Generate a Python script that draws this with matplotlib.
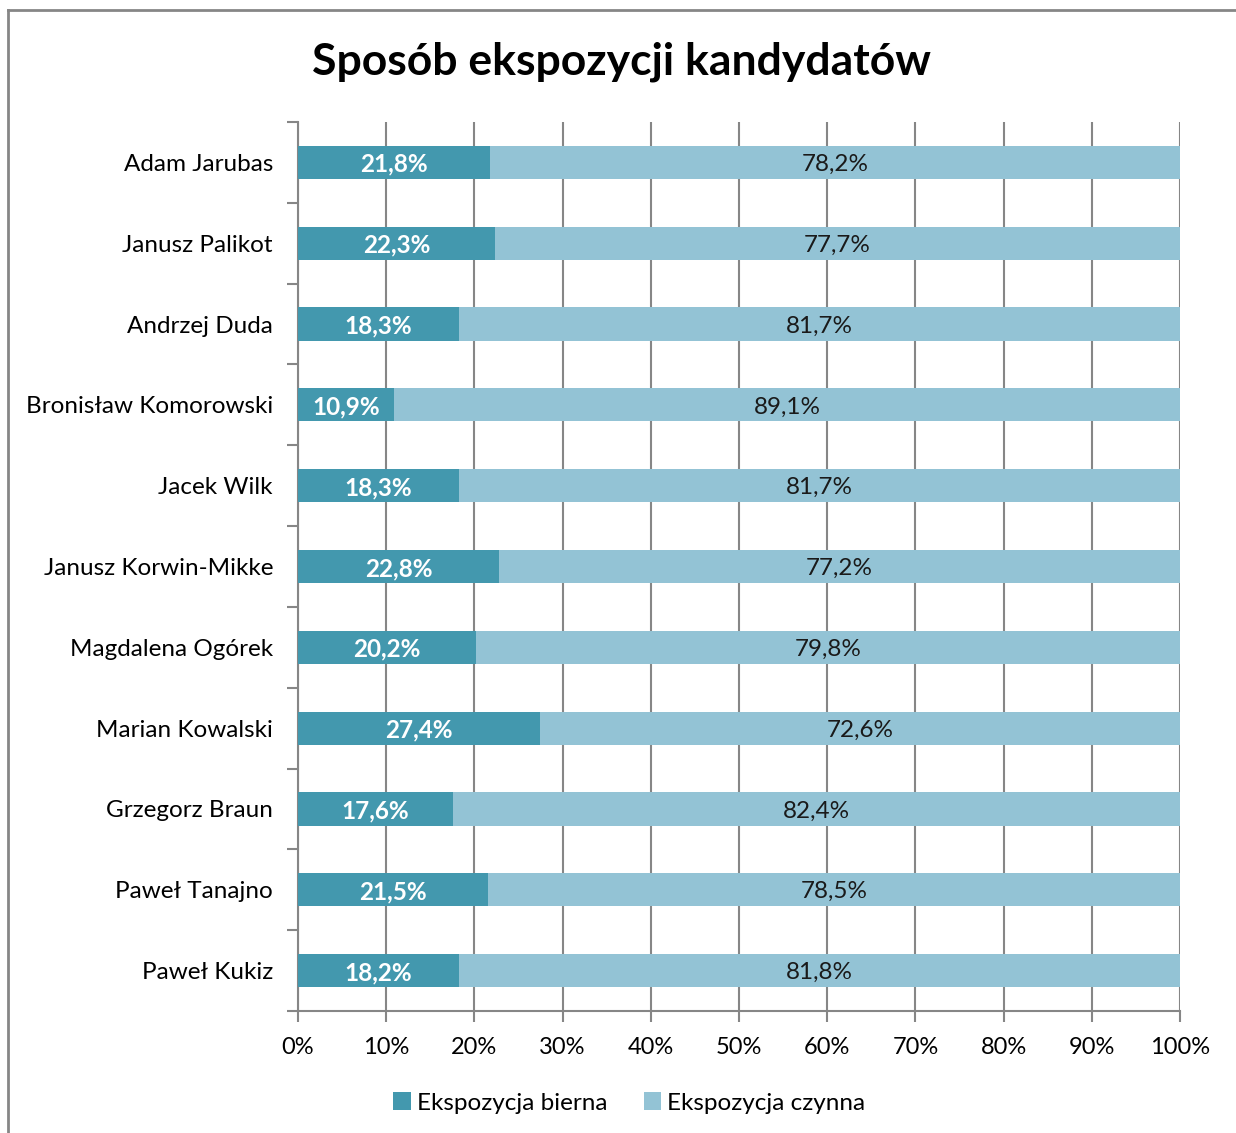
import numpy as np
import matplotlib.pyplot as plt
from matplotlib.lines import Line2D

plt.rcParams['font.family'] = ['Lato', 'DejaVu Sans']

kandydaci = ['Adam Jarubas', 'Janusz Palikot', 'Andrzej Duda', 'Bronisław Komorowski',
             'Jacek Wilk', 'Janusz Korwin-Mikke', 'Magdalena Ogórek', 'Marian Kowalski',
             'Grzegorz Braun', 'Paweł Tanajno', 'Paweł Kukiz']
bierna = [21.8, 22.3, 18.3, 10.9, 18.3, 22.8, 20.2, 27.4, 17.6, 21.5, 18.2]
czynna = [78.2, 77.7, 81.7, 89.1, 81.7, 77.2, 79.8, 72.6, 82.4, 78.5, 81.8]
ticks = [0, 10, 20, 30, 40, 50, 60, 70, 80, 90, 100]

c_bierna = '#4398ae'
c_czynna = '#93c3d5'
grey = '#868686'

fig = plt.figure(figsize=(12.36, 11.33), dpi=100)
ax = fig.add_axes([298 / 1236, 1 - 1011 / 1133, 882 / 1236, 889 / 1133])

y = np.arange(len(kandydaci))
b1 = ax.barh(y, bierna, height=0.41, color=c_bierna, zorder=3, label='Ekspozycja bierna')
b2 = ax.barh(y, czynna, left=bierna, height=0.41, color=c_czynna, zorder=3, label='Ekspozycja czynna')

for i in range(len(kandydaci)):
    ax.text(bierna[i] / 2, y[i], f'{bierna[i]:.1f}%'.replace('.', ','), ha='center',
            va='center_baseline', color='white', fontsize=17.5, fontweight='bold', zorder=4)
    ax.text(bierna[i] + czynna[i] / 2, y[i], f'{czynna[i]:.1f}%'.replace('.', ','), ha='center',
            va='center_baseline', color='#1a1a1a', fontsize=17.5, zorder=4)

ax.set_ylim(len(kandydaci) - 0.5, -0.5)
ax.set_xlim(0, 100)
ax.set_yticks(y)
ax.set_yticklabels(kandydaci, fontsize=17.5)
ax.set_yticks(np.arange(len(kandydaci) + 1) - 0.5, minor=True)
ax.tick_params(axis='y', which='major', length=0, pad=18)
ax.tick_params(axis='y', which='minor', length=8, width=1.5, color=grey)
ax.set_xticks(ticks)
ax.set_xticklabels([f'{t}%' for t in ticks], fontsize=17)
ax.tick_params(axis='x', length=8, width=1.5, color=grey, pad=11)
ax.grid(axis='x', color=grey, linewidth=1.5, zorder=0)

for s in ['top', 'right']:
    ax.spines[s].set_visible(False)
for s in ['left', 'bottom']:
    ax.spines[s].set_color(grey)
    ax.spines[s].set_linewidth(1.5)

fig.text(0.503, 1 - 62 / 1133, 'Sposób ekspozycji kandydatów', ha='center', va='center',
         fontsize=32, fontweight='bold')

fig.legend(handles=[b1, b2], loc='center', bbox_to_anchor=(0.509, 1 - 1103 / 1133), ncol=2,
           frameon=False, fontsize=17.5, handlelength=0.7, handleheight=0.7,
           handletextpad=0.25, columnspacing=1.5)

# ramka wykresu
fig.add_artist(Line2D([8 / 1236, 8 / 1236], [0, 1 - 10 / 1133], transform=fig.transFigure,
                      color=grey, linewidth=2))
fig.add_artist(Line2D([8 / 1236, 1], [1 - 10 / 1133, 1 - 10 / 1133], transform=fig.transFigure,
                      color=grey, linewidth=2))

fig.savefig('out.png', dpi=100)
